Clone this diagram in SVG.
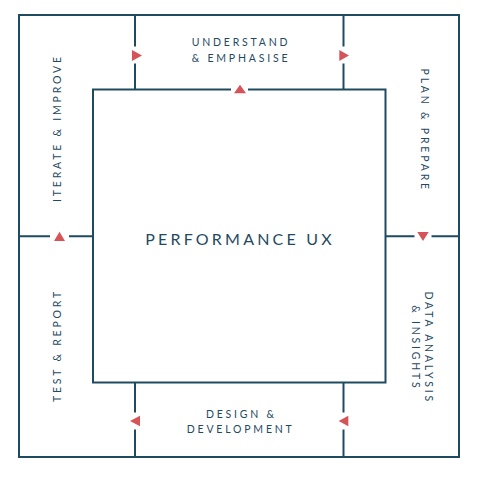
<svg xmlns="http://www.w3.org/2000/svg" width="487" height="480" viewBox="0 0 487 480">
<style>
.ln{stroke:#1e4b60;stroke-width:2;fill:none;stroke-linecap:butt}
.tri{fill:#d65358}
.lb{font-family:Lato,"Liberation Sans",sans-serif;font-size:10.5px;fill:#1f4a5f;letter-spacing:2.8px}
.tt{font-family:Lato,"Liberation Sans",sans-serif;font-size:16px;fill:#1f4a5f;letter-spacing:3.2px}
</style>
<rect width="487" height="480" fill="#ffffff"/>
<g id="connectors">
<path class="ln" d="M19,15H459V457H19Z"/>
<path class="ln" d="M231,89.5H93V382.5H385.5V89.5H248"/>
<path class="ln" d="M135,15V46.5M135,63.5V89.5M343.5,15V46.5M343.5,63.5V89.5"/>
<path class="ln" d="M135,382.5V412.5M135,429.5V457M343.5,382.5V412.5M343.5,429.5V457"/>
<path class="ln" d="M19,236.3H50M69,236.3H93M385.5,236.3H414.5M431.5,236.3H459"/>
<polygon class="tri" points="132,50 142,55.5 132,61"/>
<polygon class="tri" points="339.3,50 349,55.5 339.3,61"/>
<polygon class="tri" points="234,93.3 240,84.8 246,93.3"/>
<polygon class="tri" points="54,241 59.5,231.7 65,241"/>
<polygon class="tri" points="417.3,232 423,241 428.7,232"/>
<polygon class="tri" points="140,415.7 130,421 140,426.3"/>
<polygon class="tri" points="348.3,415.7 338.7,421 348.3,426.3"/>
</g>
<g id="understand">
<text class="lb" x="191.7" y="46">UNDERSTAND</text>
<text class="lb" x="191.7" y="62.3">&amp; EMPHASISE</text>
</g>
<g id="performance">
<text class="tt" x="240" y="244.7" text-anchor="middle">PERFORMANCE UX</text>
</g>
<g id="design">
<text class="lb" x="241.4" y="417.7" text-anchor="middle">DESIGN &amp;</text>
<text class="lb" x="240.7" y="433.3" text-anchor="middle">DEVELOPMENT</text>
</g>
<g id="iterate">
<text class="lb" transform="translate(61.3,128.1) rotate(-90)" text-anchor="middle">ITERATE &amp; IMPROVE</text>
</g>
<g id="test">
<text class="lb" transform="translate(61.3,345.6) rotate(-90)" text-anchor="middle">TEST &amp; REPORT</text>
</g>
<g id="plan">
<text class="lb" transform="translate(421,130.2) rotate(90)" text-anchor="middle">PLAN &amp; PREPARE</text>
</g>
<g id="data">
<text class="lb" transform="translate(425,347.7) rotate(90)" text-anchor="middle">DATA ANALYSIS</text>
<text class="lb" transform="translate(411.7,347.9) rotate(90)" text-anchor="middle">&amp; INSIGHTS</text>
</g>
</svg>
